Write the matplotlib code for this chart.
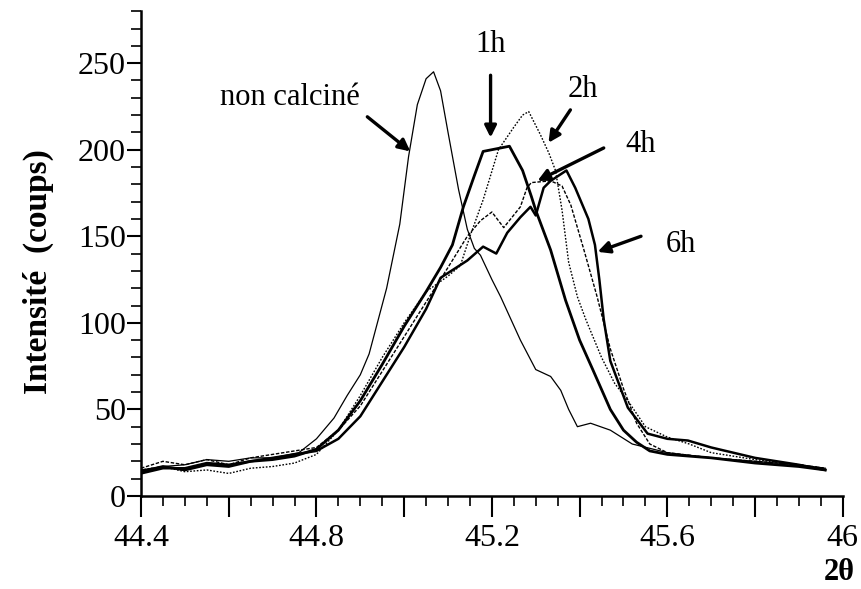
import matplotlib
matplotlib.use("Agg")
import matplotlib.pyplot as plt
from matplotlib.ticker import MultipleLocator, FixedLocator, FixedFormatter

plt.rcParams['font.family'] = ['Liberation Serif', 'DejaVu Serif']

# ---- data ----
x_nc = [44.40, 44.45, 44.50, 44.55, 44.60, 44.65, 44.70, 44.76, 44.80, 44.84, 44.87, 44.90, 44.92, 44.96,
        44.99, 45.01, 45.03, 45.05, 45.067, 45.083, 45.10, 45.124, 45.144, 45.16, 45.174, 45.20, 45.22,
        45.265, 45.30, 45.334, 45.357, 45.375, 45.395, 45.425, 45.47, 45.52, 45.60, 45.70, 45.80, 45.90, 45.96]
y_nc = [15, 17, 18, 21, 20, 22, 22, 25, 33, 45, 58, 70, 82, 120,
        157, 196, 226, 241, 245, 234, 210, 177, 154, 143, 139, 125, 115,
        90, 73, 69, 61, 50, 40, 42, 38, 30, 25, 22, 20, 18, 16]

x_1h = [44.40, 44.45, 44.50, 44.55, 44.60, 44.65, 44.70, 44.75, 44.80, 44.85, 44.90, 44.95, 45.00, 45.05,
        45.083, 45.11, 45.135, 45.16, 45.18, 45.20, 45.24, 45.27, 45.29, 45.30, 45.334, 45.368, 45.40,
        45.43, 45.47, 45.50, 45.53, 45.56, 45.60, 45.70, 45.80, 45.90, 45.96]
y_1h = [14, 17, 15, 18, 17, 20, 21, 23, 27, 38, 55, 76, 98, 118,
        132, 145, 167, 185, 199, 200, 202, 188, 173, 165, 142, 113, 90,
        73, 50, 38, 31, 26, 24, 22, 19, 17, 15]

x_2h = [44.40, 44.45, 44.50, 44.55, 44.60, 44.65, 44.70, 44.75, 44.80, 44.85, 44.90, 44.95, 45.00, 45.05,
        45.10, 45.128, 45.15, 45.18, 45.215, 45.25, 45.27, 45.284, 45.31, 45.33, 45.345, 45.36, 45.375,
        45.395, 45.414, 45.45, 45.48, 45.51, 45.55, 45.60, 45.65, 45.70, 45.80, 45.90, 45.96]
y_2h = [15, 17, 14, 15, 13, 16, 17, 19, 24, 38, 58, 80, 100, 118,
        127, 133, 150, 171, 200, 213, 220, 222, 209, 198, 188, 165, 135,
        115, 102, 80, 65, 55, 40, 34, 30, 25, 21, 18, 16]

x_4h = [44.40, 44.45, 44.50, 44.55, 44.60, 44.65, 44.70, 44.75, 44.80, 44.85, 44.90, 44.95, 45.00, 45.05,
        45.10, 45.144, 45.174, 45.20, 45.227, 45.265, 45.28, 45.29, 45.334, 45.36, 45.38, 45.41, 45.44,
        45.47, 45.50, 45.53, 45.56, 45.60, 45.70, 45.80, 45.90, 45.96]
y_4h = [16, 20, 18, 21, 18, 22, 24, 26, 28, 38, 52, 72, 92, 112,
        132, 150, 159, 164, 155, 167, 178, 181, 182, 179, 168, 142, 115,
        85, 62, 42, 30, 25, 22, 20, 18, 16]

x_6h = [44.40, 44.45, 44.50, 44.55, 44.60, 44.65, 44.70, 44.75, 44.80, 44.85, 44.90, 44.95, 45.00, 45.05,
        45.083, 45.144, 45.18, 45.21, 45.235, 45.265, 45.288, 45.30, 45.318, 45.334, 45.37, 45.39, 45.42,
        45.435, 45.445, 45.455, 45.47, 45.51, 45.555, 45.60, 45.647, 45.70, 45.80, 45.90, 45.96]
y_6h = [13, 16, 16, 19, 18, 20, 22, 24, 26, 33, 46, 66, 86, 108,
        126, 136, 144, 140, 152, 161, 167, 162, 178, 182, 188, 178, 160,
        145, 125, 102, 78, 51, 36, 33, 32, 28, 22, 18, 15]

series_labels = ["non calciné", "1h", "2h", "4h", "6h"]
x_ticks_major = [44.4, 44.6, 44.8, 45.0, 45.2, 45.4, 45.6, 45.8, 46.0]
x_tick_labels = ["44.4", "", "44.8", "", "45.2", "", "45.6", "", "46"]
y_ticks_major = [0, 50, 100, 150, 200, 250]
y_tick_labels = ["0", "50", "100", "150", "200", "250"]

# ---- figure ----
fig = plt.figure(figsize=(8.61, 5.89), dpi=100)
ax = fig.add_axes([0.1638, 0.158, 0.815, 0.823])

ax.plot(x_nc, y_nc, color='black', lw=0.9)
ax.plot(x_1h, y_1h, color='black', lw=2.0)
ax.plot(x_2h, y_2h, color='black', lw=1.0, linestyle=(0, (1.2, 1.2)))
ax.plot(x_4h, y_4h, color='black', lw=1.0, linestyle=(0, (2.5, 1.2)))
ax.plot(x_6h, y_6h, color='black', lw=1.8)

ax.set_xlim(44.4, 46.0)
ax.set_ylim(0, 280)

for s in ['top', 'right']:
    ax.spines[s].set_visible(False)
for s in ['left', 'bottom']:
    ax.spines[s].set_linewidth(1.8)

ax.xaxis.set_major_locator(FixedLocator(x_ticks_major))
ax.xaxis.set_major_formatter(FixedFormatter(x_tick_labels))
ax.xaxis.set_minor_locator(MultipleLocator(0.05))
ax.yaxis.set_major_locator(FixedLocator(y_ticks_major))
ax.yaxis.set_major_formatter(FixedFormatter(y_tick_labels))
ax.yaxis.set_minor_locator(FixedLocator(list(range(0, 281, 10))))

ax.tick_params(axis='x', which='major', length=15, width=1.5, direction='out', labelsize=23, pad=5)
ax.tick_params(axis='x', which='minor', length=7, width=1.2, direction='out')
ax.tick_params(axis='y', which='major', length=10, width=1.5, direction='out', labelsize=23, pad=1)
ax.tick_params(axis='y', which='minor', length=7, width=1.2, direction='out')

fig.text(0.045, 1 - 272 / 589, "Intensité  (coups)", fontsize=24, fontweight='bold',
         rotation=90, ha='center', va='center')
fig.text(0.993, 0.003, "2θ", fontsize=22, fontweight='bold', ha='right', va='bottom')

arrow = dict(arrowstyle='-|>,head_length=0.7,head_width=0.35', color='black', lw=2.4, shrinkA=0, shrinkB=0)

tfs = 22
ax.text(44.74, 230, series_labels[0], fontsize=tfs, ha='center', va='center')
ax.annotate("", xy=(45.014, 199), xytext=(44.916, 219), arrowprops=arrow)

ax.text(45.197, 261, series_labels[1], fontsize=tfs, ha='center', va='center')
ax.annotate("", xy=(45.197, 207), xytext=(45.197, 243), arrowprops=arrow)

ax.text(45.407, 235, series_labels[2], fontsize=tfs, ha='center', va='center')
ax.annotate("", xy=(45.329, 204), xytext=(45.379, 223), arrowprops=arrow)

ax.text(45.54, 203, series_labels[3], fontsize=tfs, ha='center', va='center')
ax.annotate("", xy=(45.304, 182), xytext=(45.455, 201), arrowprops=arrow)

ax.text(45.63, 145, series_labels[4], fontsize=tfs, ha='center', va='center')
ax.annotate("", xy=(45.441, 141), xytext=(45.54, 150), arrowprops=arrow)

fig.savefig("out.png", dpi=100)
